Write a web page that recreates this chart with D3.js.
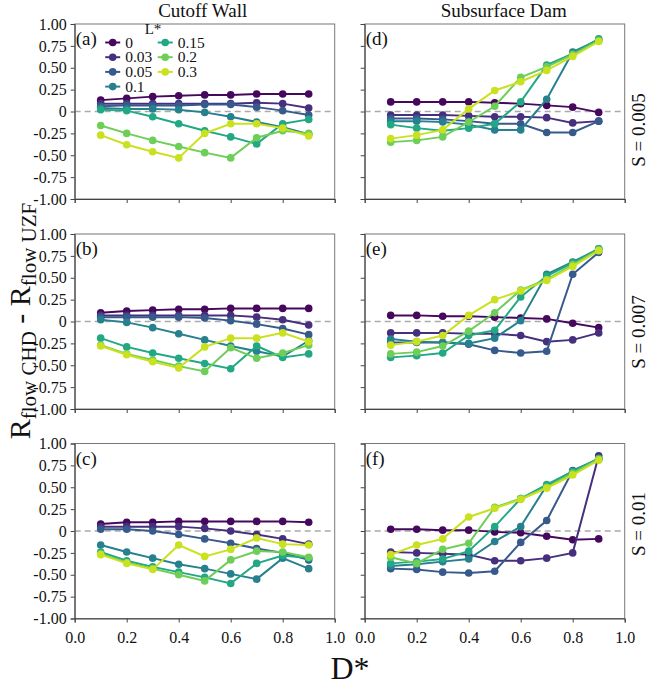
<!DOCTYPE html>
<meta charset="utf-8">
<style>
body { margin: 0; background: #fff; }
svg, svg text { font-family: "Liberation Serif", "DejaVu Serif", "Times New Roman", serif; }
text { fill: #111; }
.axis path, .axis line { stroke: #444; }
.frame { fill: none; stroke: #777; stroke-width: 1; }
.zero { stroke: #aaa; stroke-width: 1.5; stroke-dasharray: 6,4; }
</style>
<body>
<script src="https://cdn.jsdelivr.net/npm/d3@7"></script>
<script>
// L* values (series) and D* positions
var lStar = ["0", "0.03", "0.05", "0.1", "0.15", "0.2", "0.3"];
var dStar = [0.1, 0.2, 0.3, 0.4, 0.5, 0.6, 0.7, 0.8, 0.9];
var yTicks = [1, 0.75, 0.5, 0.25, 0, -0.25, -0.5, -0.75, -1];
var yTickLabels = ["1.00", "0.75", "0.50", "0.25", "0", "-0.25", "-0.50", "-0.75", "-1.00"];
var xTicks = [0, 0.2, 0.4, 0.6, 0.8, 1.0];
var xTickLabels = ["0.0", "0.2", "0.4", "0.6", "0.8", "1.0"];
var colTitles = ["Cutoff Wall", "Subsurface Dam"];
var rowLabels = ["S = 0.005", "S = 0.007", "S = 0.01"];
var panelTags = ["(a)", "(b)", "(c)", "(d)", "(e)", "(f)"];

// cutoff wall, one row per L*
var cutoff005 = [
  [0.13, 0.15, 0.17, 0.18, 0.19, 0.19, 0.20, 0.20, 0.20],
  [0.09, 0.09, 0.09, 0.09, 0.09, 0.09, 0.10, 0.09, 0.04],
  [0.06, 0.07, 0.07, 0.07, 0.08, 0.08, 0.05, 0.01, -0.04],
  [0.04, 0.03, 0.03, 0.02, -0.01, -0.06, -0.12, -0.18, -0.26],
  [0.02, 0.01, -0.06, -0.14, -0.22, -0.29, -0.37, -0.14, -0.09],
  [-0.16, -0.25, -0.33, -0.40, -0.47, -0.53, -0.30, -0.22, -0.25],
  [-0.27, -0.38, -0.46, -0.53, -0.25, -0.14, -0.14, -0.19, -0.28]
];
var cutoff007 = [
  [0.10, 0.12, 0.13, 0.14, 0.14, 0.15, 0.15, 0.15, 0.15],
  [0.07, 0.07, 0.07, 0.07, 0.07, 0.07, 0.05, 0.02, -0.04],
  [0.05, 0.05, 0.05, 0.05, 0.04, 0.01, -0.03, -0.08, -0.15],
  [0.02, -0.01, -0.07, -0.14, -0.21, -0.28, -0.34, -0.40, -0.22],
  [-0.19, -0.29, -0.36, -0.42, -0.48, -0.54, -0.28, -0.41, -0.37],
  [-0.27, -0.37, -0.44, -0.51, -0.57, -0.30, -0.42, -0.36, -0.27],
  [-0.28, -0.38, -0.46, -0.53, -0.29, -0.19, -0.19, -0.13, -0.23]
];
var cutoff01 = [
  [0.08, 0.10, 0.10, 0.11, 0.11, 0.11, 0.11, 0.11, 0.10],
  [0.05, 0.05, 0.05, 0.05, 0.03, 0.00, -0.04, -0.09, -0.15],
  [0.02, 0.02, 0.00, -0.04, -0.09, -0.14, -0.20, -0.25, -0.33],
  [-0.16, -0.24, -0.31, -0.38, -0.43, -0.49, -0.55, -0.31, -0.43],
  [-0.24, -0.34, -0.41, -0.47, -0.53, -0.60, -0.37, -0.28, -0.31],
  [-0.26, -0.36, -0.43, -0.50, -0.57, -0.33, -0.23, -0.24, -0.30],
  [-0.27, -0.37, -0.44, -0.16, -0.29, -0.21, -0.08, -0.15, -0.16]
];
// subsurface dam
var dam005 = [
  [0.11, 0.11, 0.11, 0.11, 0.10, 0.09, 0.07, 0.05, -0.01],
  [-0.04, -0.04, -0.04, -0.05, -0.06, -0.06, -0.07, -0.13, -0.11],
  [-0.08, -0.08, -0.09, -0.11, -0.14, -0.14, -0.24, -0.24, -0.11],
  [-0.11, -0.11, -0.12, -0.15, -0.21, -0.21, 0.14, 0.68, 0.82],
  [-0.15, -0.19, -0.22, -0.19, -0.14, 0.11, 0.53, 0.66, 0.83],
  [-0.35, -0.33, -0.29, -0.12, 0.06, 0.39, 0.51, 0.65, 0.81],
  [-0.31, -0.27, -0.21, 0.03, 0.24, 0.34, 0.47, 0.63, 0.80]
];
var dam007 = [
  [0.07, 0.07, 0.06, 0.06, 0.05, 0.04, 0.03, -0.02, -0.07],
  [-0.13, -0.13, -0.13, -0.14, -0.14, -0.16, -0.23, -0.21, -0.13],
  [-0.24, -0.24, -0.24, -0.26, -0.33, -0.36, -0.34, 0.54, 0.79],
  [-0.20, -0.23, -0.24, -0.25, -0.19, 0.01, 0.54, 0.68, 0.83],
  [-0.41, -0.39, -0.36, -0.16, -0.10, 0.28, 0.52, 0.67, 0.83],
  [-0.37, -0.35, -0.28, -0.11, 0.10, 0.36, 0.48, 0.65, 0.82],
  [-0.27, -0.23, -0.16, 0.07, 0.25, 0.35, 0.47, 0.63, 0.81]
];
var dam01 = [
  [0.02, 0.02, 0.01, 0.01, -0.01, -0.02, -0.06, -0.10, -0.09],
  [-0.24, -0.25, -0.26, -0.27, -0.34, -0.34, -0.31, -0.25, 0.86],
  [-0.43, -0.44, -0.47, -0.48, -0.46, -0.13, 0.12, 0.69, 0.82],
  [-0.40, -0.38, -0.35, -0.32, -0.12, 0.05, 0.52, 0.68, 0.82],
  [-0.37, -0.35, -0.32, -0.23, 0.05, 0.37, 0.53, 0.68, 0.83],
  [-0.30, -0.37, -0.21, -0.14, 0.27, 0.37, 0.50, 0.66, 0.82],
  [-0.27, -0.16, -0.09, 0.16, 0.26, 0.36, 0.49, 0.64, 0.81]
];

var panelData = [cutoff005, cutoff007, cutoff01, dam005, dam007, dam01];

var colorT = [0.02, 0.14, 0.28, 0.43, 0.6, 0.78, 0.92];
var color = d3.scaleOrdinal().domain(lStar).range(colorT.map(function(t) { return d3.interpolateViridis(t); }));

var serif = "'Liberation Serif', 'DejaVu Serif', 'Times New Roman', serif";

var W = 650, H = 685;
var pw = 260, ph = 175;
var colX = [74.7, 364.7];
var rowY = [24, 234, 443.5];

var svg = d3.select("body").append("svg")
    .attr("width", W)
    .attr("height", H)
    .attr("font-family", serif);

var x = d3.scaleLinear().domain([0, 1]).range([0, pw]);
var y = d3.scaleLinear().domain([-1, 1]).range([ph, 0]);

var line = d3.line()
    .x(function(d, i) { return x(dStar[i]); })
    .y(function(d) { return y(d); });

panelData.forEach(function(pd, k) {
  var col = Math.floor(k / 3), row = k % 3;
  var g = svg.append("g").attr("transform", "translate(" + colX[col] + "," + rowY[row] + ")");

  g.append("rect").attr("class", "frame").attr("width", pw).attr("height", ph);

  g.append("line").attr("class", "zero")
      .attr("x1", 0).attr("x2", pw)
      .attr("y1", y(0)).attr("y2", y(0));

  var yAxis = d3.axisLeft(y).tickValues(yTicks).tickSize(4).tickPadding(4)
      .tickFormat(function(d, i) { return col == 0 ? yTickLabels[i] : ""; });
  var ya = g.append("g").attr("class", "axis").call(yAxis);
  ya.attr("font-family", serif).attr("font-size", 16);
  ya.selectAll("text").style("font-family", serif).style("font-size", "16px");

  var xAxis = d3.axisBottom(x).tickValues(xTicks).tickSize(4).tickPadding(9)
      .tickFormat(function(d, i) { return row == 2 ? xTickLabels[i] : ""; });
  var xa = g.append("g").attr("class", "axis").attr("transform", "translate(0," + ph + ")").call(xAxis);
  xa.attr("font-family", serif).attr("font-size", 16);
  xa.selectAll("text").style("font-family", serif).style("font-size", "16px");

  // lines + dots per L*
  pd.forEach(function(vals, s) {
    g.append("path")
        .datum(vals)
        .attr("fill", "none")
        .attr("stroke", color(lStar[s]))
        .attr("stroke-width", 2)
        .attr("d", line);
    g.selectAll(".dot" + s)
        .data(vals)
      .enter().append("circle")
        .attr("cx", function(d, i) { return x(dStar[i]); })
        .attr("cy", function(d) { return y(d); })
        .attr("r", 3.8)
        .attr("fill", color(lStar[s]));
  });

  g.append("text")
      .attr("x", 1).attr("y", 21)
      .style("font-family", serif)
      .style("font-size", "19px")
      .text(panelTags[k]);

  if (row == 0) {
    g.append("text")
        .attr("x", col == 0 ? pw / 2 - 2 : pw / 2 + 9).attr("y", -7)
        .attr("text-anchor", "middle")
        .style("font-family", serif)
        .style("font-size", "19px")
        .text(colTitles[col]);
  }
});

// row labels on the right
var rowLabelY = [130, 332, 524];
rowLabels.forEach(function(t, i) {
  svg.append("text")
      .attr("transform", "translate(645," + rowLabelY[i] + ")rotate(-90)")
      .attr("text-anchor", "middle")
      .style("font-family", serif)
      .style("font-size", "19px")
      .text(t);
});

// legend inside (a)
var leg = svg.append("g").attr("transform", "translate(" + colX[0] + "," + rowY[0] + ")");
leg.append("text")
    .attr("x", 70).attr("y", 10)
    .style("font-family", serif)
    .style("font-size", "15px")
    .text("L*");
var legItem = leg.selectAll(".leg")
    .data(lStar)
  .enter().append("g")
    .attr("transform", function(d, i) {
      var c = i < 4 ? 0 : 1, r = i < 4 ? i : i - 4;
      return "translate(" + (c == 0 ? 30.5 : 83) + "," + (18.5 + r * 14.7) + ")";
    });
legItem.append("line")
    .attr("x1", 0).attr("x2", 15)
    .attr("stroke", function(d) { return color(d); })
    .attr("stroke-width", 2);
legItem.append("circle")
    .attr("cx", 7.5).attr("r", 3.8)
    .attr("fill", function(d) { return color(d); });
legItem.append("text")
    .attr("x", 20).attr("y", 5)
    .style("font-family", serif)
    .style("font-size", "15.5px")
    .text(function(d) { return d; });

// axis titles
var yl = svg.append("text")
    .attr("transform", "translate(30,321)rotate(-90)")
    .attr("text-anchor", "middle")
    .style("font-family", serif)
    .style("font-size", "30px");
yl.append("tspan").text("R");
yl.append("tspan").attr("dy", 6).style("font-size", "21px").text("flow CHD");
yl.append("tspan").attr("dy", -6).text(" - R");
yl.append("tspan").attr("dy", 6).style("font-size", "21px").text("flow UZF");

svg.append("text")
    .attr("x", 350).attr("y", 679)
    .attr("text-anchor", "middle")
    .style("font-family", serif)
    .style("font-size", "32px")
    .text("D*");
</script>
</body>
